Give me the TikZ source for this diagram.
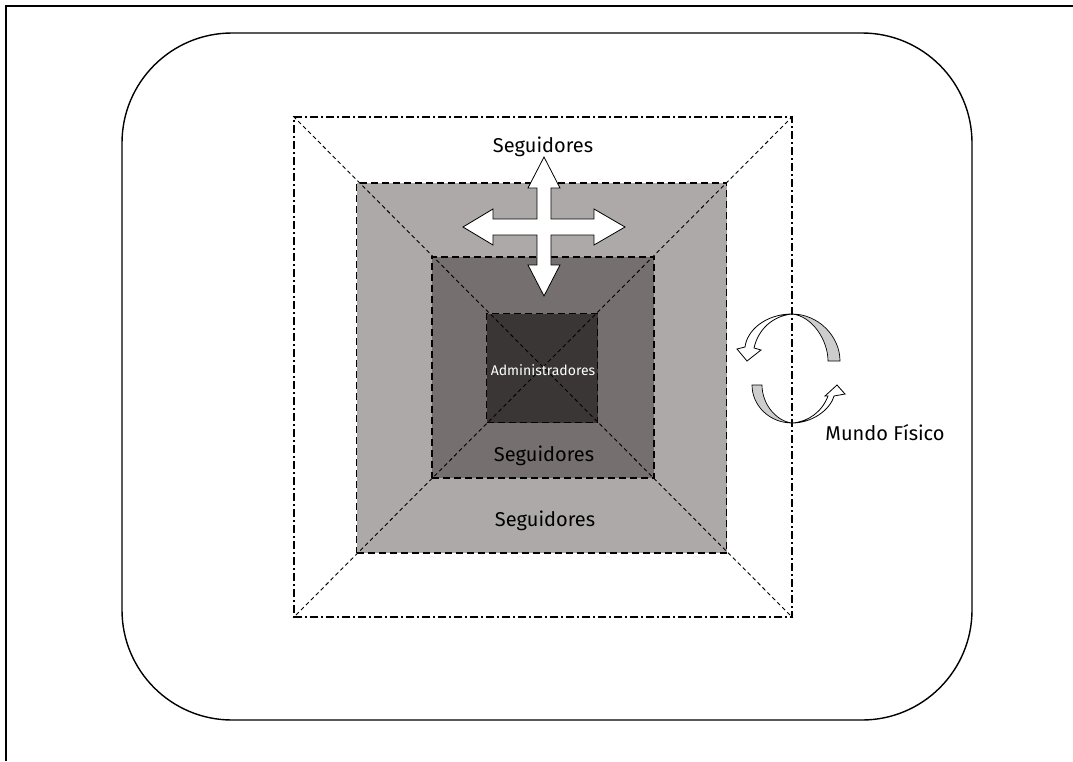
\documentclass[tikz,border=0pt]{standalone}
\usepackage{fontspec}
\setmainfont{Fira Sans}
\definecolor{ringlight}{RGB}{173,169,168}
\definecolor{ringmid}{RGB}{117,112,111}
\definecolor{ringdark}{RGB}{58,54,54}
\definecolor{bandgray}{RGB}{205,205,205}
\tikzset{
  frameline/.style={line width=2.5pt},
  world/.style={draw, line width=1.4pt, rounded corners=110pt},
  dashdotbox/.style={draw, line width=1.6pt, dash pattern=on 8pt off 3pt on 2pt off 3pt, inner sep=0pt},
  ringbox/.style={draw, line width=1.6pt, dash pattern=on 7pt off 4pt, inner sep=0pt},
  diag/.style={line width=0.9pt, draw=black, dash pattern=on 4pt off 3pt},
  label/.style={font=\fontsize{20}{24}\selectfont, text=black, inner sep=1pt},
  smalllabel/.style={font=\fontsize{14}{16}\selectfont, text=white, inner sep=1pt},
  arrowshape/.style={fill=white, draw=black, line width=0.8pt, line join=miter},
  bandshape/.style={fill=bandgray, draw=black, line width=0.7pt},
}
\begin{document}
\begin{tikzpicture}[x=1pt,y=-1pt]
\useasboundingbox (0,0) rectangle (1073,761);
% outer frame, running off the page at right and bottom
\coordinate (fb) at (6,761);
\coordinate (fc) at (6,6);
\coordinate (fr) at (1073,6);
\draw[frameline] (fb) -- (fc) -- (fr);
% rounded world boundary
\node[world, minimum width=850pt, minimum height=687pt] (worldbox) at (547,376.5) {};
% nested squares
\node[dashdotbox, minimum width=498pt, minimum height=500pt] (sq0) at (543,367) {};
\node[ringbox, fill=ringlight, minimum width=370pt, minimum height=370pt] (sq1) at (541.5,368) {};
\node[ringbox, fill=ringmid, minimum width=222pt, minimum height=221pt] (sq2) at (543,367.5) {};
\node[ringbox, fill=ringdark, minimum width=111pt, minimum height=109pt] (sq3) at (542,368) {};
% diagonals through all squares
\draw[diag] (sq0.north west) -- (sq0.south east);
\draw[diag] (sq0.north east) -- (sq0.south west);
% labels
\node[label] (topfollow) at (543,147) {Seguidores};
\node[label] (midfollow) at (544,456) {Seguidores};
\node[label] (lowfollow) at (545,521) {Seguidores};
\node[smalllabel] (admins) at (543,370) {Administradores};
\node[label, font=\fontsize{20}{22}\selectfont] (world) at (885,433) {Mundo Físico};
% four-way arrow
\draw[arrowshape] (544,157) -- (560,188) -- (551,188) -- (551,219) -- (594,219) -- (594,209)
  -- (625,227) -- (594,245) -- (594,235) -- (551,235) -- (551,265) -- (560,265)
  -- (544,296) -- (528,265) -- (537,265) -- (537,235) -- (493,235) -- (493,245)
  -- (463,227) -- (493,209) -- (493,219) -- (537,219) -- (537,188) -- (528,188) -- cycle;
% cycle arrows beside the squares
\draw[bandshape] (792,314) .. controls (818,314) and (840,336) .. (840,361)
  -- (828,361) .. controls (828,340) and (812,316) .. (792,314) -- cycle;
\draw[arrowshape] (792,314) .. controls (766,314) and (747,330) .. (745,347)
  -- (737,349) -- (747,361) -- (761,350) -- (754,348)
  .. controls (758,330) and (772,316) .. (792,314) -- cycle;
\draw[bandshape] (792,423) .. controls (770,423) and (752,406) .. (752,385)
  -- (762,385) .. controls (762,404) and (776,421) .. (792,423) -- cycle;
\draw[arrowshape] (792,423) .. controls (812,423) and (830,410) .. (834,396)
  -- (845,394) -- (837,385) -- (825,396) -- (828,396)
  .. controls (822,412) and (808,422) .. (792,423) -- cycle;
\end{tikzpicture}
\end{document}
